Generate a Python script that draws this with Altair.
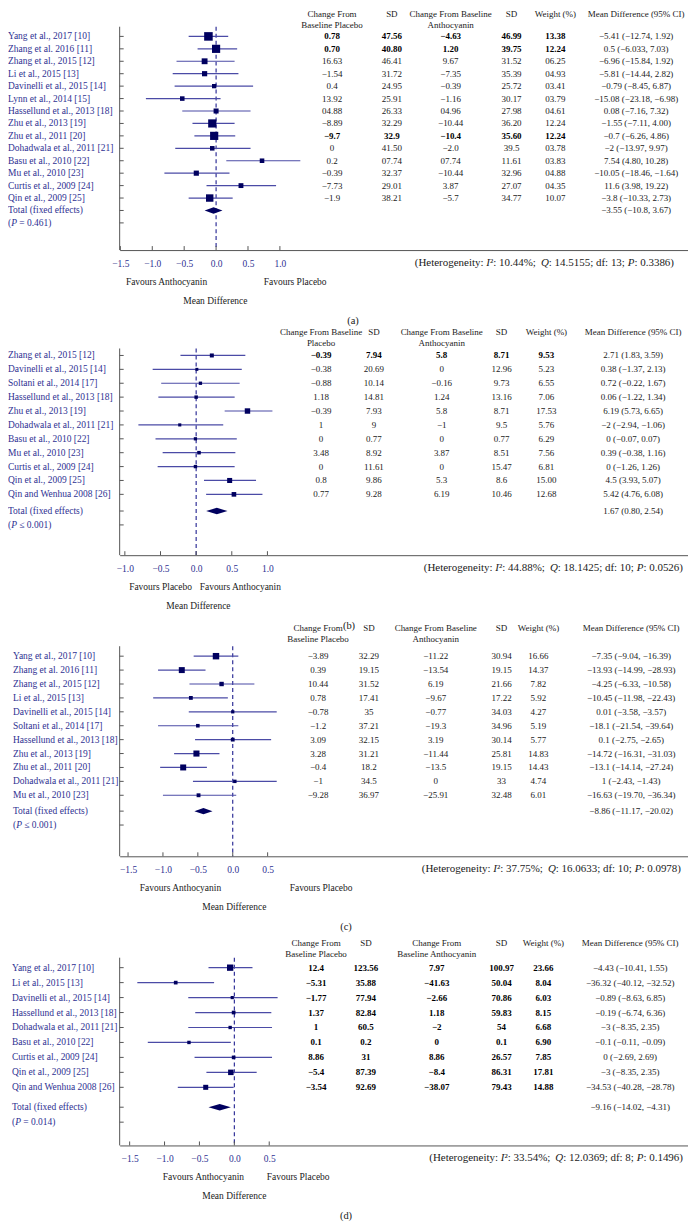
import altair as alt
import pandas as pd

FONT = "Liberation Serif"
BLUE = "#2e3192"
NAVY = "#00005f"
CIC = "#4b4ba6"
AX = "#555555"
TXT = "#1a1a1a"
W = 570          # plot width (px)
PL = 120         # page x of the plot's left edge (used for layout offsets)

# ---------------- Panel (a) ----------------
studies_a = ["Yang et al., 2017 [10]", "Zhang et al. 2016 [11]", "Zhang et al., 2015 [12]",
             "Li et al., 2015 [13]", "Davinelli et al., 2015 [14]", "Lynn et al., 2014 [15]",
             "Hassellund et al., 2013 [18]", "Zhu et al., 2013 [19]", "Zhu et al., 2011 [20]",
             "Dohadwala et al., 2011 [21]", "Basu et al., 2010 [22]", "Mu et al., 2010 [23]",
             "Curtis et al., 2009 [24]", "Qin et al., 2009 [25]"]
placebo_a = ["0.78", "0.70", "16.63", "−1.54", "0.4", "13.92", "04.88", "−8.89", "−9.7", "0",
             "0.2", "−0.39", "−7.73", "−1.9"]
sdp_a = ["47.56", "40.80", "46.41", "31.72", "24.95", "25.91", "26.33", "32.29", "32.9", "41.50",
         "07.74", "32.37", "29.01", "38.21"]
antho_a = ["−4.63", "1.20", "9.67", "−7.35", "−0.39", "−1.16", "04.96", "−10.44", "−10.4", "−2.0",
           "07.74", "−10.44", "3.87", "−5.7"]
sda_a = ["46.99", "39.75", "31.52", "35.39", "25.72", "30.17", "27.98", "36.20", "35.60", "39.5",
         "11.61", "32.96", "27.07", "34.77"]
weight_txt_a = ["13.38", "12.24", "06.25", "04.93", "03.41", "03.79", "04.61", "12.24", "12.24",
                "03.78", "03.83", "04.88", "04.35", "10.07"]
weight_a = [13.38, 12.24, 6.25, 4.93, 3.41, 3.79, 4.61, 12.24, 12.24, 3.78, 3.83, 4.88, 4.35, 10.07]
md_a = ["−5.41 (−12.74, 1.92)", "0.5 (−6.033, 7.03)", "−6.96 (−15.84, 1.92)", "−5.81 (−14.44, 2.82)",
        "−0.79 (−8.45, 6.87)", "−15.08 (−23.18, −6.98)", "0.08 (−7.16, 7.32)", "−1.55 (−7.11, 4.00)",
        "−0.7 (−6.26, 4.86)", "−2 (−13.97, 9.97)", "7.54 (4.80, 10.28)", "−10.05 (−18.46, −1.64)",
        "11.6 (3.98, 19.22)", "−3.8 (−10.33, 2.73)"]
est_a = [-0.12, 0.00, -0.18, -0.18, -0.03, -0.53, 0.00, -0.06, -0.03, -0.06, 0.72, -0.31, 0.39, -0.10]
lo_a = [-0.43, -0.29, -0.62, -0.68, -0.65, -1.10, -0.53, -0.37, -0.34, -0.64, 0.16, -0.81, -0.15, -0.43]
hi_a = [0.19, 0.33, 0.29, 0.35, 0.58, 0.07, 0.54, 0.29, 0.30, 0.54, 1.32, 0.21, 0.94, 0.26]
bold_a = [0, 1, 8]
total_md_a = "−3.55 (−10.8, 3.67)"
total_ci_a = [-0.18, -0.04, 0.10]
p_a = "= 0.461"
het_a = ["10.44%", "14.5155", "13", "0.3386"]
ticks_a = [-1.5, -1.0, -0.5, 0.0, 0.5, 1.0]
hdr_a = ["Change From\nBaseline Placebo", "SD", "Change From Baseline\nAnthocyanin", "SD",
         "Weight (%)", "Mean Difference (95% CI)"]
fav_a = ["Favours Anthocyanin", "Favours Placebo"]

# ---------------- Panel (b) ----------------
studies_b = ["Zhang et al., 2015 [12]", "Davinelli et al., 2015 [14]", "Soltani et al., 2014 [17]",
             "Hassellund et al., 2013 [18]", "Zhu et al., 2013 [19]", "Dohadwala et al., 2011 [21]",
             "Basu et al., 2010 [22]", "Mu et al., 2010 [23]", "Curtis et al., 2009 [24]",
             "Qin et al., 2009 [25]", "Qin and Wenhua 2008 [26]"]
placebo_b = ["−0.39", "−0.38", "−0.88", "1.18", "−0.39", "1", "0", "3.48", "0", "0.8", "0.77"]
sdp_b = ["7.94", "20.69", "10.14", "14.81", "7.93", "9", "0.77", "8.92", "11.61", "9.86", "9.28"]
antho_b = ["5.8", "0", "−0.16", "1.24", "5.8", "−1", "0", "3.87", "0", "5.3", "6.19"]
sda_b = ["8.71", "12.96", "9.73", "13.16", "8.71", "9.5", "0.77", "8.51", "15.47", "8.6", "10.46"]
weight_txt_b = ["9.53", "5.23", "6.55", "7.06", "17.53", "5.76", "6.29", "7.56", "6.81", "15.00", "12.68"]
weight_b = [9.53, 5.23, 6.55, 7.06, 17.53, 5.76, 6.29, 7.56, 6.81, 15.00, 12.68]
md_b = ["2.71 (1.83, 3.59)", "0.38 (−1.37, 2.13)", "0.72 (−0.22, 1.67)", "0.06 (−1.22, 1.34)",
        "6.19 (5.73, 6.65)", "−2 (−2.94, −1.06)", "0 (−0.07, 0.07)", "0.39 (−0.38, 1.16)",
        "0 (−1.26, 1.26)", "4.5 (3.93, 5.07)", "5.42 (4.76, 6.08)"]
est_b = [0.22, 0.01, 0.06, 0.00, 0.72, -0.23, -0.01, 0.04, -0.01, 0.47, 0.53]
lo_b = [-0.22, -0.61, -0.49, -0.53, 0.40, -0.81, -0.57, -0.47, -0.54, 0.11, 0.14]
hi_b = [0.69, 0.64, 0.61, 0.54, 1.07, 0.38, 0.57, 0.55, 0.54, 0.84, 0.93]
bold_b = [0]
total_md_b = "1.67 (0.80, 2.54)"
total_ci_b = [0.14, 0.29, 0.44]
p_b = "≤ 0.001"
het_b = ["44.88%", "18.1425", "10", "0.0526"]
ticks_b = [-1.0, -0.5, 0.0, 0.5, 1.0]
hdr_b = ["Change From Baseline\nPlacebo", "SD", "Change From Baseline\nAnthocyanin", "SD",
         "Weight (%)", "Mean Difference (95% CI)"]
fav_b = ["Favours Placebo", "Favours Anthocyanin"]

# ---------------- Panel (c) ----------------
studies_c = ["Yang et al., 2017 [10]", "Zhang et al. 2016 [11]", "Zhang et al., 2015 [12]",
             "Li et al., 2015 [13]", "Davinelli et al., 2015 [14]", "Soltani et al., 2014 [17]",
             "Hassellund et al., 2013 [18]", "Zhu et al., 2013 [19]", "Zhu et al., 2011 [20]",
             "Dohadwala et al., 2011 [21]", "Mu et al., 2010 [23]"]
placebo_c = ["−3.89", "0.39", "10.44", "0.78", "−0.78", "−1.2", "3.09", "3.28", "−0.4", "−1", "−9.28"]
sdp_c = ["32.29", "19.15", "31.52", "17.41", "35", "37.21", "32.15", "31.21", "18.2", "34.5", "36.97"]
antho_c = ["−11.22", "−13.54", "6.19", "−9.67", "−0.77", "−19.3", "3.19", "−11.44", "−13.5", "0", "−25.91"]
sda_c = ["30.94", "19.15", "21.66", "17.22", "34.03", "34.96", "30.14", "25.81", "19.15", "33", "32.48"]
weight_txt_c = ["16.66", "14.37", "7.82", "5.92", "4.27", "5.19", "5.77", "14.83", "14.43", "4.74", "6.01"]
weight_c = [16.66, 14.37, 7.82, 5.92, 4.27, 5.19, 5.77, 14.83, 14.43, 4.74, 6.01]
md_c = ["−7.35 (−9.04, −16.39)", "−13.93 (−14.99, −28.93)", "−4.25 (−6.33, −10.58)",
        "−10.45 (−11.98, −22.43)", "0.01 (−3.58, −3.57)", "−18.1 (−21.54, −39.64)",
        "0.1 (−2.75, −2.65)", "−14.72 (−16.31, −31.03)", "−13.1 (−14.14, −27.24)",
        "1 (−2.43, −1.43)", "−16.63 (−19.70, −36.34)"]
est_c = [-0.24, -0.73, -0.16, -0.60, 0.00, -0.50, 0.00, -0.52, -0.71, 0.03, -0.49]
lo_c = [-0.56, -1.07, -0.62, -1.14, -0.63, -1.07, -0.54, -0.84, -1.04, -0.57, -1.00]
hi_c = [0.08, -0.39, 0.31, -0.07, 0.63, 0.08, 0.55, -0.19, -0.37, 0.63, 0.05]
bold_c = []
total_md_c = "−8.86 (−11.17, −20.02)"
total_ci_c = [-0.55, -0.42, -0.29]
p_c = "≤ 0.001"
het_c = ["37.75%", "16.0633", "10", "0.0978"]
ticks_c = [-1.5, -1.0, -0.5, 0.0, 0.5]
hdr_c = ["Change From\nBaseline Placebo", "SD", "Change From Baseline\nAnthocyanin", "SD",
         "Weight (%)", "Mean Difference (95% CI)"]
fav_c = ["Favours Anthocyanin", "Favours Placebo"]

# ---------------- Panel (d) ----------------
studies_d = ["Yang et al., 2017 [10]", "Li et al., 2015 [13]", "Davinelli et al., 2015 [14]",
             "Hassellund et al., 2013 [18]", "Dohadwala et al., 2011 [21]", "Basu et al., 2010 [22]",
             "Curtis et al., 2009 [24]", "Qin et al., 2009 [25]", "Qin and Wenhua 2008 [26]"]
placebo_d = ["12.4", "−5.31", "−1.77", "1.37", "1", "0.1", "8.86", "−5.4", "−3.54"]
sdp_d = ["123.56", "35.88", "77.94", "82.84", "60.5", "0.2", "31", "87.39", "92.69"]
antho_d = ["7.97", "−41.63", "−2.66", "1.18", "−2", "0", "8.86", "−8.4", "−38.07"]
sda_d = ["100.97", "50.04", "70.86", "59.83", "54", "0.1", "26.57", "86.31", "79.43"]
weight_txt_d = ["23.66", "8.04", "6.03", "8.15", "6.68", "6.90", "7.85", "17.81", "14.88"]
weight_d = [23.66, 8.04, 6.03, 8.15, 6.68, 6.90, 7.85, 17.81, 14.88]
md_d = ["−4.43 (−10.41, 1.55)", "−36.32 (−40.12, −32.52)", "−0.89 (−8.63, 6.85)",
        "−0.19 (−6.74, 6.36)", "−3 (−8.35, 2.35)", "−0.1 (−0.11, −0.09)", "0 (−2.69, 2.69)",
        "−3 (−8.35, 2.35)", "−34.53 (−40.28, −28.78)"]
est_d = [-0.06, -0.84, -0.03, -0.01, -0.06, -0.65, -0.01, -0.05, -0.41]
lo_d = [-0.37, -1.39, -0.66, -0.56, -0.66, -1.24, -0.57, -0.40, -0.81]
hi_d = [0.26, -0.29, 0.62, 0.53, 0.54, -0.05, 0.54, 0.32, -0.01]
bold_d = list(range(9))
total_md_d = "−9.16 (−14.02, −4.31)"
total_ci_d = [-0.37, -0.21, -0.05]
p_d = "= 0.014"
het_d = ["33.54%", "12.0369", "8", "0.1496"]
ticks_d = [-1.5, -1.0, -0.5, 0.0, 0.5]
hdr_d = ["Change From\nBaseline Placebo", "SD", "Change From\nBaseline Anthocyanin", "SD",
         "Weight (%)", "Mean Difference (95% CI)"]
fav_d = ["Favours Anthocyanin", "Favours Placebo"]

# ---------------- layout (pixels) ----------------
SPACING = 91
LAY_A = dict(H=224, axtop=0, top_off=9.7, sp=12.47, gap=0.0, zero=96.7, ppu=64, lab=112, hy=-12.5,
             cols=[333, 393, 452, 513, 557, 638], k=5.5, het_x=676,
             fav_x=[167, 296], md_x=216, id_x=354, label="(a)")
LAY_B = dict(H=215, axtop=7.7, top_off=14.7, sp=13.93, gap=0.2, zero=76.7, ppu=71.5, lab=112, hy=-8.5,
             cols=[322, 375, 443, 503, 548, 635], k=1.7, het_x=685,
             fav_x=[161, 241], md_x=199, id_x=350, label="(b)")
LAY_C = dict(H=211, axtop=0.3, top_off=10.3, sp=13.95, gap=0.14, zero=113.4, ppu=70, lab=107, hy=-18.1,
             cols=[319, 370, 437, 503, 540, 633], k=2.5, het_x=683,
             fav_x=[181, 322], md_x=235, id_x=347, label="(c)")
LAY_D = dict(H=199, axtop=10.7, top_off=20.7, sp=15.0, gap=0.33, zero=115, ppu=70, lab=108, hy=-4.3,
             cols=[317, 367, 438, 503, 545, 632], k=1.7, het_x=685,
             fav_x=[204, 299], md_x=235, id_x=347, label="(d)")

# Times / Liberation Serif advance widths (per 1000 em) used to place italic runs
ADV = {"(": 333, ")": 333, "H": 722, "e": 444, "t": 278, "r": 333, "o": 500, "g": 500, "n": 500,
       "i": 278, "y": 500, ":": 278, " ": 250, "I": 333, "²": 300, ".": 250, "%": 833, ";": 278,
       "Q": 722, "d": 500, "f": 333, "P": 556, "=": 564, "≤": 549}
ADV_IT = {"I": 333, "Q": 722, "P": 611}


def run_width(s, size, italic=False):
    tot = 0
    for ch in s:
        if italic and ch in ADV_IT:
            tot += ADV_IT[ch]
        elif ch.isdigit():
            tot += 500
        else:
            tot += ADV.get(ch, 500)
    return tot * size / 1000.0


def rich_runs(runs, x_start, size, color):
    """runs: list of (text, italic). Places each run left-aligned right after the previous one."""
    out = []
    x = x_start
    for text, ital in runs:
        stripped = text.lstrip(" ")
        lead = len(text) - len(stripped)
        x += lead * ADV[" "] * size / 1000.0
        props = dict(align="left", baseline="middle", font=FONT, fontSize=size, color=color)
        if ital:
            props["fontStyle"] = "italic"
        out.append((stripped, x, props))
        x += run_width(stripped, size, ital)
    return out


def panel(studies, cols, bold_rows, est, lo, hi, weight, total_md, total_ci, p_label, het,
          ticks, headers, favs, L):
    n = len(studies)
    sp = L["sp"]
    H = L["H"]
    y0 = -L["top_off"] / sp
    ys = alt.Scale(domain=[y0, y0 + H / sp], reverse=True, nice=False, zero=False)
    xs = alt.Scale(domain=[-L["zero"] / L["ppu"], (W - L["zero"]) / L["ppu"]], nice=False, zero=False)
    xax = alt.Axis(values=ticks, format=".1f", ticks=False, title=None, grid=False,
                   domainColor=AX, domainWidth=1, labelColor=BLUE, labelFont=FONT,
                   labelFontSize=9.5, labelPadding=8, labelFlush=False)
    tot = n + L["gap"]
    Y = alt.Y("pos:Q", scale=ys, axis=None)

    forest = pd.DataFrame({"pos": list(range(n)), "est": est, "lo": lo, "hi": hi, "w": weight})
    rows_lab = pd.DataFrame({"pos": list(range(n)) + [tot],
                             "lab": studies + ["Total (fixed effects)"]})
    rows_all = pd.DataFrame({"pos": list(range(n)) + [tot, tot + 1]})
    h = 3.2 / sp
    diamond = pd.DataFrame({"x": total_ci, "y1": [tot, tot - h, tot], "y2": [tot, tot + h, tot]})

    layers = []
    # left axis line (starts where the reference's does)
    layers.append(alt.Chart(pd.DataFrame({"z": [0]})).mark_rule(color=AX, strokeWidth=1).encode(
        x=alt.value(0), y=alt.value(L["axtop"]), y2=alt.value(H)))
    # zero line
    layers.append(alt.Chart(pd.DataFrame({"z": [0.0]})).mark_rule(
        color="#1f1f8f", strokeDash=[4, 3], strokeWidth=1.1).encode(
        x=alt.X("z:Q", scale=xs, axis=xax), y=alt.value(L["axtop"]), y2=alt.value(H)))
    # CI lines
    layers.append(alt.Chart(forest).mark_rule(color=CIC, strokeWidth=1.2).encode(
        x=alt.X("lo:Q", scale=xs, axis=xax), x2="hi:Q", y=Y))
    # squares
    layers.append(alt.Chart(forest).mark_square(color=NAVY, opacity=1).encode(
        x=alt.X("est:Q", scale=xs, axis=xax), y=Y,
        size=alt.Size("w:Q", scale=alt.Scale(domain=[0, 30], range=[0, 30 * L["k"]]), legend=None)))
    # diamond
    layers.append(alt.Chart(diamond).mark_area(color=NAVY, opacity=1).encode(
        x=alt.X("x:Q", scale=xs, axis=xax),
        y=alt.Y("y1:Q", scale=ys, axis=None), y2="y2:Q"))
    # inward y ticks
    layers.append(alt.Chart(rows_all).mark_rule(color=AX).encode(
        y=Y, x=alt.value(0), x2=alt.value(4)))
    # inward x ticks (carries the x axis)
    layers.append(alt.Chart(pd.DataFrame({"t": ticks})).mark_rule(color=AX).encode(
        x=alt.X("t:Q", scale=xs, axis=xax), y=alt.value(H), y2=alt.value(H - 4)))
    # study labels
    layers.append(alt.Chart(rows_lab).mark_text(
        align="left", baseline="middle", font=FONT, fontSize=9.5, color=BLUE).encode(
        x=alt.value(-L["lab"]), y=Y, text="lab:N"))
    # "(P ...)" label with italic P
    p_runs = [("(", False), ("P", True), (" " + p_label + ")", False)]
    for text, xx, props in rich_runs(p_runs, -L["lab"], 9.5, BLUE):
        layers.append(alt.Chart(pd.DataFrame({"t": [text], "pos": [tot + 1]})).mark_text(**props)
                      .encode(x=alt.value(xx), y=Y, text="t:N"))

    # table
    tab = {"pos": list(range(n)) + [tot]}
    for j, c in enumerate(cols):
        tab[f"c{j}"] = list(c) + ([total_md] if j == 5 else [""])
    tab["bold"] = [i in bold_rows for i in range(n)] + [False]
    tab = pd.DataFrame(tab)
    for j, cx in enumerate(L["cols"]):
        xv = cx - PL
        base = alt.Chart(tab)
        if j < 5:
            layers.append(base.mark_text(baseline="middle", font=FONT, fontSize=9, color=TXT)
                          .transform_filter("!datum.bold")
                          .encode(x=alt.value(xv), y=Y, text=f"c{j}:N"))
            layers.append(base.mark_text(baseline="middle", font=FONT, fontSize=9, color="#000",
                                         fontWeight="bold")
                          .transform_filter("datum.bold")
                          .encode(x=alt.value(xv), y=Y, text=f"c{j}:N"))
        else:
            layers.append(base.mark_text(baseline="middle", font=FONT, fontSize=9, color=TXT)
                          .encode(x=alt.value(xv), y=Y, text=f"c{j}:N"))
        layers.append(alt.Chart(pd.DataFrame({"t": [headers[j]]})).mark_text(
            baseline="middle", font=FONT, fontSize=9, color=TXT, lineBreak="\n", lineHeight=11)
            .encode(x=alt.value(xv), y=alt.value(L["hy"]), text="t:N"))

    # heterogeneity line with italic symbols
    i2, q, df_, p = het
    het_runs = [("(Heterogeneity: ", False), ("I", True), ("²: " + i2 + "; ", False), ("Q", True),
                (": " + q + "; df: " + df_ + "; ", False), ("P", True), (": " + p + ")", False)]
    hsize = 11
    total_w = sum(run_width(t, hsize, it) for t, it in het_runs)
    for text, xx, props in rich_runs(het_runs, L["het_x"] - PL - total_w, hsize, TXT):
        layers.append(alt.Chart(pd.DataFrame({"t": [text]})).mark_text(**props).encode(
            x=alt.value(xx), y=alt.value(H + 13), text="t:N"))

    for t, fx in zip(favs, L["fav_x"]):
        layers.append(alt.Chart(pd.DataFrame({"t": [t]})).mark_text(
            baseline="middle", font=FONT, fontSize=9.5, color=TXT).encode(
            x=alt.value(fx - PL), y=alt.value(H + 32), text="t:N"))
    layers.append(alt.Chart(pd.DataFrame({"t": ["Mean Difference"]})).mark_text(
        baseline="middle", font=FONT, fontSize=9.5, color=TXT).encode(
        x=alt.value(L["md_x"] - PL), y=alt.value(H + 51), text="t:N"))
    layers.append(alt.Chart(pd.DataFrame({"t": [L["label"]]})).mark_text(
        baseline="middle", font=FONT, fontSize=10.5, color=TXT).encode(
        x=alt.value(L["id_x"] - PL), y=alt.value(H + 71), text="t:N"))

    return alt.layer(*layers).properties(width=W, height=H)


pa = panel(studies_a, [placebo_a, sdp_a, antho_a, sda_a, weight_txt_a, md_a], bold_a, est_a, lo_a,
           hi_a, weight_a, total_md_a, total_ci_a, p_a, het_a, ticks_a, hdr_a, fav_a, LAY_A)
pb = panel(studies_b, [placebo_b, sdp_b, antho_b, sda_b, weight_txt_b, md_b], bold_b, est_b, lo_b,
           hi_b, weight_b, total_md_b, total_ci_b, p_b, het_b, ticks_b, hdr_b, fav_b, LAY_B)
pc = panel(studies_c, [placebo_c, sdp_c, antho_c, sda_c, weight_txt_c, md_c], bold_c, est_c, lo_c,
           hi_c, weight_c, total_md_c, total_ci_c, p_c, het_c, ticks_c, hdr_c, fav_c, LAY_C)
pd_ = panel(studies_d, [placebo_d, sdp_d, antho_d, sda_d, weight_txt_d, md_d], bold_d, est_d, lo_d,
            hi_d, weight_d, total_md_d, total_ci_d, p_d, het_d, ticks_d, hdr_d, fav_d, LAY_D)

chart = (alt.vconcat(pa, pb, pc, pd_, spacing=SPACING, bounds="flush")
         .resolve_scale(size="independent", x="independent", y="independent")
         .properties(padding=0, background="white")
         .configure_view(stroke=None))

chart.save("out.html", embed_options={"renderer": "svg", "actions": False})
